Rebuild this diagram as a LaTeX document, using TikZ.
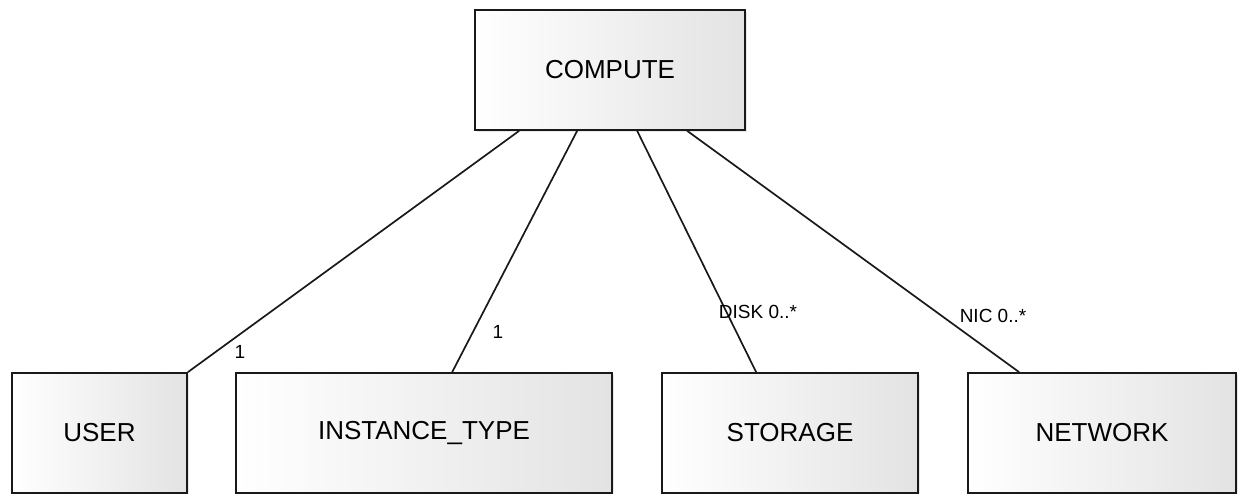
\documentclass[tikz,border=0pt]{standalone}
\usepackage{fontspec}
\setmainfont{Liberation Sans}
\usetikzlibrary{shadows,calc}
\tikzset{
  entity/.style={draw=black!90, line width=1.7pt, rectangle, inner sep=0pt,
    left color=white, right color=black!11, shading angle=90,
    drop shadow={opacity=0.18, shadow xshift=2pt, shadow yshift=-2pt},
    font=\fontsize{26}{28}\selectfont},
  link/.style={draw=black!90, line width=1.7pt},
  mult/.style={font=\fontsize{19}{20}\selectfont, inner sep=0pt}
}
\begin{document}
\begin{tikzpicture}[x=1pt,y=-1pt]
\useasboundingbox (0,0) rectangle (1238,494);
\node[entity, minimum width=270pt, minimum height=120pt] (compute) at (610,70) {COMPUTE};
\node[entity, minimum width=175pt, minimum height=120pt] (user) at (99.5,433) {USER};
\node[entity, minimum width=376pt, minimum height=120pt] (itype) at (424,433) {INSTANCE\_TYPE};
\node[entity, minimum width=256pt, minimum height=120pt] (storage) at (790,433) {STORAGE};
\node[entity, minimum width=268pt, minimum height=120pt] (network) at (1102,433) {NETWORK};
\draw[link] ([xshift=45pt]compute.south west) -- (user.north east);
\draw[link] ([xshift=103pt]compute.south west) -- ([xshift=217pt]itype.north west);
\draw[link] ([xshift=163pt]compute.south west) -- ([xshift=95pt]storage.north west);
\draw[link] ([xshift=213pt]compute.south west) -- ([xshift=52pt]network.north west);
\node[mult] (m1) at (240,352) {1};
\node[mult] (m2) at (498,332) {1};
\node[mult] (m3) at (758,312) {DISK 0..*};
\node[mult] (m4) at (993,316) {NIC 0..*};
\end{tikzpicture}
\end{document}
